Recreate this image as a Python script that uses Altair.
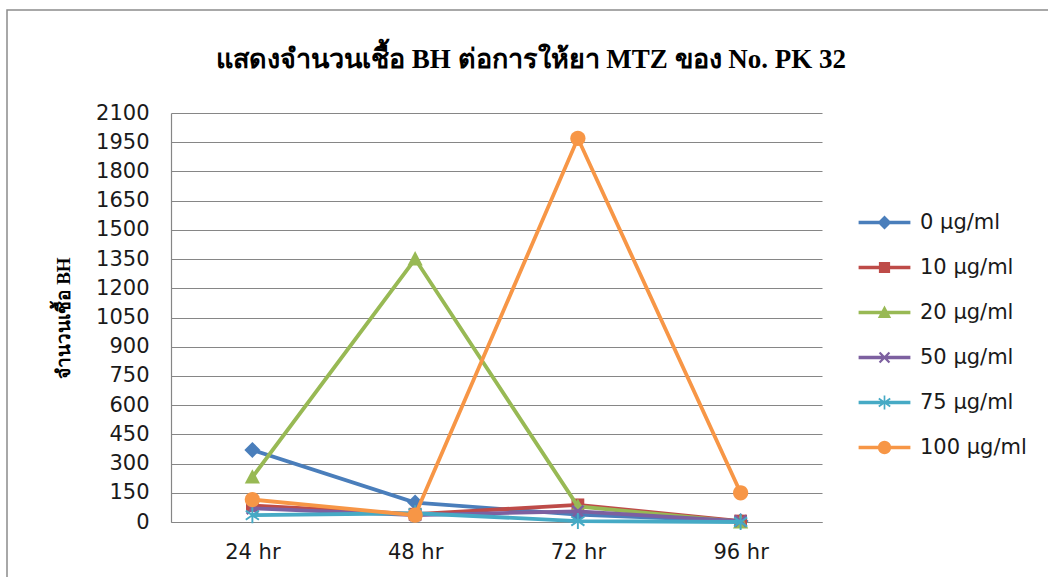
import math
import altair as alt
import pandas as pd

# ---- data -------------------------------------------------------------
title_text = "แสดงจำนวนเชื้อ BH ต่อการให้ยา MTZ ของ No. PK 32"
times = ["24 hr", "48 hr", "72 hr", "96 hr"]
series = ["0 µg/ml", "10 µg/ml", "20 µg/ml", "50 µg/ml", "75 µg/ml", "100 µg/ml"]

bh_0 = [370, 100, 38, 5]
bh_10 = [85, 40, 88, 5]
bh_20 = [230, 1350, 80, 0]
bh_50 = [70, 35, 55, 5]
bh_75 = [35, 45, 5, 0]
bh_100 = [115, 35, 1970, 150]

values = [bh_0, bh_10, bh_20, bh_50, bh_75, bh_100]
colors = ["#4A7EBB", "#BE4B48", "#98B954", "#7D60A0", "#46AAC5", "#F79646"]

rows = []
for s, vals in zip(series, values):
    for t, v in zip(times, vals):
        rows.append({"time": t, "series": s, "count": v})
df = pd.DataFrame(rows)

# ---- marker shapes (filled polygons in Vega's unit symbol space) -------
def poly(points):
    # keep a single winding direction so overlapping parts stay filled
    area = sum(points[i][0] * points[(i + 1) % len(points)][1]
               - points[(i + 1) % len(points)][0] * points[i][1]
               for i in range(len(points)))
    if area < 0:
        points = points[::-1]
    return "M" + "L".join(f"{x:.3f},{y:.3f}" for x, y in points) + "Z"


def bar(length, thick, angle_deg):
    a = math.radians(angle_deg)
    ca, sa = math.cos(a), math.sin(a)
    pts = [(-length, -thick), (length, -thick), (length, thick), (-length, thick)]
    return poly([(x * ca - y * sa, x * sa + y * ca) for x, y in pts])


def circle(r, n=28):
    return poly([(r * math.cos(2 * math.pi * i / n), r * math.sin(2 * math.pi * i / n))
                 for i in range(n)])


markers = [
    poly([(0, -1), (1, 0), (0, 1), (-1, 0)]),                  # diamond
    poly([(-0.8, -0.8), (0.8, -0.8), (0.8, 0.8), (-0.8, 0.8)]),  # square
    poly([(0, -1), (0.95, 0.8), (-0.95, 0.8)]),                # triangle
    bar(1.0, 0.16, 45) + bar(1.0, 0.16, -45),                  # x
    bar(1.0, 0.12, 90) + bar(1.0, 0.12, 35) + bar(1.0, 0.12, -35),  # asterisk
    circle(0.95),                                              # circle
]
# legend symbols: the marker on top of a short line segment
legend_shapes = [m + bar(3.7, 0.25, 0) for m in markers]

W, H = 651, 409
LEFT, TOP = 171, 113

x_enc = alt.X("time:N", sort=times,
              scale=alt.Scale(type="point", padding=0.5),
              axis=alt.Axis(title=None, labelAngle=0, ticks=False,
                            labelPadding=19, grid=False,
                            domainColor="#868686", domainWidth=1.2))
y_enc = alt.Y("count:Q",
              scale=alt.Scale(domain=[0, 2100], nice=False),
              axis=alt.Axis(title="จำนวนเชื้อ BH", format="d",
                            values=list(range(0, 2101, 150)),
                            ticks=False, labelPadding=22,
                            grid=True, gridColor="#868686", gridWidth=1.2,
                            domainColor="#868686", domainWidth=1.2,
                            titleFont="Liberation Serif", titleFontWeight="bold",
                            titleFontSize=19, titlePadding=22, titleColor="#000000"))

# outer chart border
frame = alt.Chart(pd.DataFrame({"k": [0]})).mark_rect(
    fill="transparent", stroke="#8C8C8C", strokeWidth=1.5
).encode(
    x=alt.value(7 - LEFT), x2=alt.value(1048 - LEFT + 20),
    y=alt.value(10 - TOP), y2=alt.value(577 - TOP + 20),
)

# chart heading
heading = alt.Chart(pd.DataFrame({"t": [title_text]})).mark_text(
    font="Liberation Serif", fontSize=27, fontWeight="bold", color="#000000",
    align="center", baseline="middle",
).encode(
    text="t:N", x=alt.value(531 - LEFT), y=alt.value(60 - TOP),
)

layers = [frame, heading]
for s, c, m in zip(series, colors, markers):
    base = alt.Chart(df).transform_filter(alt.datum.series == s)
    layers.append(base.mark_line(strokeWidth=3.8, color=c).encode(x=x_enc, y=y_enc))
    layers.append(base.mark_point(shape=m, filled=True, size=256, opacity=1, color=c)
                  .encode(x=x_enc, y=y_enc))

legend_layer = alt.Chart(df).transform_filter("false").mark_point(
    filled=True, opacity=1, size=196
).encode(
    x=x_enc, y=y_enc,
    color=alt.Color("series:N", sort=series,
                    scale=alt.Scale(domain=series, range=colors),
                    legend=alt.Legend(title=None)),
    shape=alt.Shape("series:N", sort=series,
                    scale=alt.Scale(domain=series, range=legend_shapes),
                    legend=alt.Legend(title=None)),
)
layers.append(legend_layer)

chart = alt.layer(*layers).properties(
    width=W, height=H,
    autosize=alt.AutoSizeParams(type="none"),
    padding={"left": LEFT, "top": TOP, "right": 1048 - LEFT - W, "bottom": 577 - TOP - H},
    background="white",
).configure_view(stroke=None).configure_axis(
    labelFont="DejaVu Sans", labelFontSize=21, labelColor="#1a1a1a",
).configure_legend(
    orient="none", legendX=703, legendY=99,
    labelFont="DejaVu Sans", labelFontSize=21, labelColor="#1a1a1a",
    labelOffset=25, rowPadding=23, symbolStrokeWidth=0, symbolSize=196, padding=0,
)

chart.save("out.html", embed_options={"renderer": "svg", "actions": False})
